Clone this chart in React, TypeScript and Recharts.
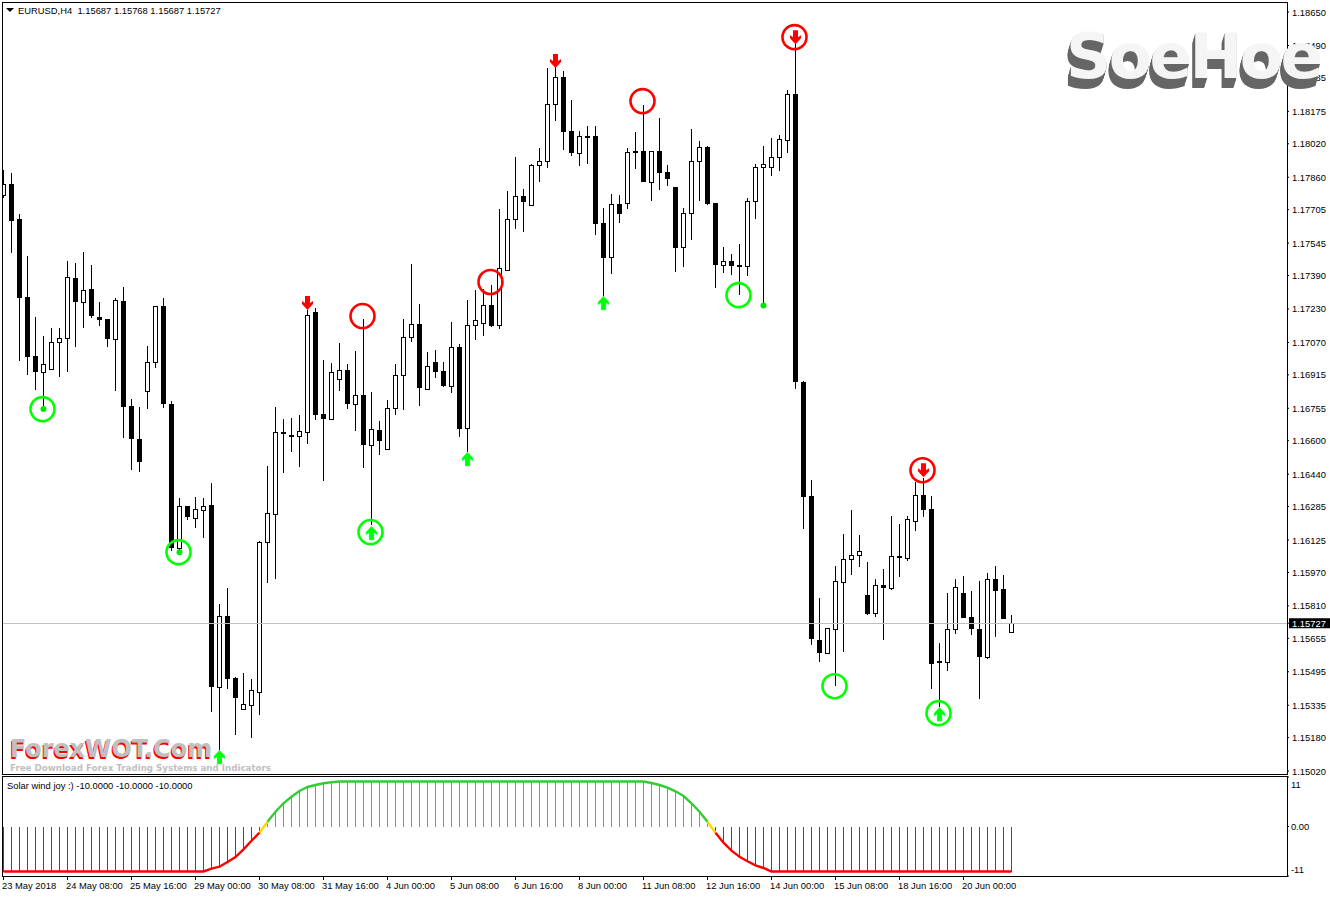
import { Bar, Cell, ComposedChart, Line, ReferenceLine, Scatter, XAxis, YAxis } from "recharts";

const opens = [
  1.17775, 1.17827, 1.1766, 1.17287, 1.17005, 1.16928, 1.16943, 1.17072, 1.17091, 1.17378,
  1.17263, 1.17325, 1.17191, 1.17182, 1.17086, 1.17268, 1.16766, 1.16608, 1.16837, 1.16976,
  1.17244, 1.16775, 1.16086, 1.16287, 1.1623, 1.16268, 1.16292, 1.15421, 1.15761, 1.15465,
  1.15316, 1.15335, 1.15398, 1.16115, 1.16249, 1.16641, 1.16627, 1.16622, 1.16641, 1.17215,
  1.16727, 1.16703, 1.16895, 1.16938, 1.16775, 1.16818, 1.16579, 1.16651, 1.1656, 1.16756,
  1.16914, 1.17096, 1.17158, 1.16847, 1.16976, 1.16933, 1.16861, 1.17048, 1.1666, 1.17153,
  1.17163, 1.17249, 1.17153, 1.17416, 1.1766, 1.1777, 1.17727, 1.17918, 1.17937, 1.1821,
  1.18339, 1.18081, 1.17976, 1.18052, 1.18057, 1.17641, 1.17478, 1.17732, 1.17736, 1.17985,
  1.17985, 1.17837, 1.17985, 1.17885, 1.17813, 1.17526, 1.17689, 1.17937, 1.18004, 1.17736,
  1.1744, 1.17459, 1.1744, 1.17435, 1.17746, 1.17909, 1.17909, 1.17957, 1.18038, 1.18258,
  1.1688, 1.16335, 1.15646, 1.15584, 1.15699, 1.15924, 1.16034, 1.16053, 1.15862, 1.15775,
  1.15909, 1.15895, 1.16048, 1.16038, 1.16215, 1.1634, 1.16273, 1.15546, 1.15541, 1.15699,
  1.15871, 1.15756, 1.15699, 1.15565, 1.15938, 1.1589, 1.15687,
];
const highs = [
  1.17894, 1.1788, 1.17684, 1.17483, 1.17191, 1.171, 1.17139, 1.17139, 1.17459, 1.1745,
  1.17502, 1.1744, 1.17263, 1.17182, 1.17282, 1.17335, 1.16799, 1.16761, 1.17053, 1.17244,
  1.17282, 1.16789, 1.16326, 1.16287, 1.1633, 1.16326, 1.16397, 1.15819, 1.15895, 1.15469,
  1.15489, 1.1546, 1.1612, 1.16479, 1.16761, 1.16703, 1.16708, 1.16722, 1.17225, 1.17234,
  1.16986, 1.16971, 1.17067, 1.16966, 1.17029, 1.17182, 1.16832, 1.16694, 1.16794, 1.16966,
  1.17182, 1.17445, 1.17253, 1.17024, 1.17033, 1.16976, 1.17167, 1.17062, 1.17273, 1.1732,
  1.17325, 1.17344, 1.17708, 1.17794, 1.17957, 1.17803, 1.17923, 1.17999, 1.18382, 1.18401,
  1.18368, 1.18229, 1.18081, 1.18105, 1.18105, 1.17713, 1.17779, 1.17775, 1.17999, 1.18076,
  1.18205, 1.17985, 1.18143, 1.17918, 1.17813, 1.17713, 1.1809, 1.18033, 1.18009, 1.17736,
  1.17526, 1.17493, 1.1754, 1.1776, 1.17923, 1.18009, 1.18047, 1.18062, 1.18277, 1.18497,
  1.16885, 1.16412, 1.15847, 1.15704, 1.16, 1.16153, 1.16268, 1.16149, 1.16019, 1.15938,
  1.15986, 1.16239, 1.16201, 1.16239, 1.16402, 1.16421, 1.16335, 1.15632, 1.15871, 1.15938,
  1.15952, 1.15881, 1.15929, 1.15967, 1.16, 1.15957, 1.15768,
];
const lows = [
  1.1776, 1.17497, 1.16981, 1.16914, 1.16842, 1.16761, 1.16943, 1.16904, 1.16928, 1.17048,
  1.17139, 1.17186, 1.17148, 1.17048, 1.16837, 1.16612, 1.16459, 1.1645, 1.16751, 1.16947,
  1.16756, 1.16072, 1.16072, 1.1622, 1.16182, 1.16134, 1.15302, 1.1512, 1.15412, 1.15192,
  1.15316, 1.15178, 1.15288, 1.15919, 1.15938, 1.16445, 1.16546, 1.16474, 1.16584, 1.16699,
  1.16407, 1.16703, 1.16837, 1.16751, 1.16646, 1.16469, 1.16196, 1.16531, 1.1656, 1.16722,
  1.16746, 1.17072, 1.16766, 1.16847, 1.16899, 1.16856, 1.16828, 1.16617, 1.16546, 1.17081,
  1.171, 1.17143, 1.17134, 1.17416, 1.17612, 1.17598, 1.17727, 1.17837, 1.17904, 1.18129,
  1.1799, 1.17961, 1.17913, 1.17923, 1.17583, 1.17287, 1.17397, 1.17641, 1.17708, 1.17899,
  1.17837, 1.17746, 1.17799, 1.17818, 1.17406, 1.1743, 1.1756, 1.17746, 1.17727, 1.1733,
  1.17402, 1.17392, 1.17296, 1.17387, 1.1766, 1.17253, 1.17866, 1.1789, 1.17976, 1.16847,
  1.16177, 1.15622, 1.15541, 1.15584, 1.15426, 1.15589, 1.15957, 1.15995, 1.15766, 1.15756,
  1.15646, 1.15885, 1.15948, 1.16024, 1.16168, 1.16235, 1.15412, 1.15326, 1.15498, 1.15675,
  1.15751, 1.1567, 1.15364, 1.15555, 1.15661, 1.15747, 1.15687,
];
const closes = [
  1.17827, 1.1765, 1.17282, 1.17, 1.16928, 1.16966, 1.17072, 1.17091, 1.17383, 1.17263,
  1.1732, 1.17196, 1.17177, 1.17086, 1.17273, 1.16761, 1.16608, 1.16498, 1.16976, 1.17244,
  1.16775, 1.16086, 1.16287, 1.16235, 1.16273, 1.16287, 1.15421, 1.15761, 1.1546, 1.15369,
  1.1534, 1.15407, 1.16115, 1.16254, 1.16641, 1.16632, 1.16617, 1.16646, 1.17201, 1.16722,
  1.16703, 1.16928, 1.16938, 1.16775, 1.16818, 1.16579, 1.16656, 1.16598, 1.16756, 1.16914,
  1.17096, 1.17158, 1.16852, 1.16957, 1.16928, 1.16861, 1.17048, 1.16656, 1.17153, 1.17177,
  1.17249, 1.17148, 1.17426, 1.1766, 1.1777, 1.17741, 1.17918, 1.17937, 1.1821, 1.18339,
  1.18076, 1.17976, 1.18057, 1.18057, 1.17636, 1.17473, 1.17732, 1.17684, 1.1798, 1.17976,
  1.17837, 1.17985, 1.1788, 1.17851, 1.17521, 1.17689, 1.17937, 1.18004, 1.17732, 1.1744,
  1.17459, 1.17435, 1.1743, 1.17746, 1.17909, 1.17923, 1.17957, 1.18043, 1.18258, 1.1688,
  1.1633, 1.15651, 1.15584, 1.15704, 1.15929, 1.16034, 1.16053, 1.16072, 1.15771, 1.15909,
  1.15895, 1.16048, 1.16038, 1.16225, 1.1634, 1.16268, 1.15531, 1.15536, 1.15699, 1.159,
  1.15751, 1.15699, 1.15565, 1.15938, 1.15881, 1.15747, 1.15727,
];

const solarWind = [
  -10, -10, -10, -10, -10, -10, -10, -10, -10, -10, -10, -10, -10, -10, -10, -10, -10, -10, -10, -10,
  -10, -10, -10, -10, -10, -10, -9.38, -8.93, -7.89, -6.78, -5.07, -3.16, -1.38, 1.07, 3.29, 5.16,
  6.62, 7.89, 8.78, 9.22, 9.6, 9.82, 10, 10, 10, 10, 10, 10, 10, 10,
  10, 10, 10, 10, 10, 10, 10, 10, 10, 10, 10, 10, 10, 10, 10, 10, 10, 10, 10, 10,
  10, 10, 10, 10, 10, 10, 10, 10, 10, 10, 10, 9.67, 9.22, 8.63, 7.82, 6.78, 5.16, 3.29, 1.07, -1.38,
  -3.6, -5.38, -6.71, -7.73, -8.62, -9.22, -10, -10, -10, -10, -10, -10, -10, -10, -10, -10, -10, -10, -10, -10,
  -10, -10, -10, -10, -10, -10, -10, -10, -10, -10, -10, -10, -10, -10, -10, -10, -10,
];

const priceTicks = [
  1.1865, 1.1849, 1.18335, 1.18175, 1.1802, 1.1786, 1.17705, 1.17545, 1.1739, 1.1723, 1.1707, 1.16915,
  1.16755, 1.166, 1.1644, 1.16285, 1.16125, 1.1597, 1.1581, 1.15655, 1.15495, 1.15335, 1.1518, 1.1502,
];
const lastPrice = 1.15727;
const windTicks = [11, 0, -11];
const timeLabels = [
  "23 May 2018", "24 May 08:00", "25 May 16:00", "29 May 00:00", "30 May 08:00", "31 May 16:00",
  "4 Jun 00:00", "5 Jun 08:00", "6 Jun 16:00", "8 Jun 00:00", "11 Jun 08:00", "12 Jun 16:00",
  "14 Jun 00:00", "15 Jun 08:00", "18 Jun 16:00", "20 Jun 00:00",
];

const greenCircles = [
  { i: 5, price: 1.16751 }, { i: 22, price: 1.16067 }, { i: 46, price: 1.16163 },
  { i: 92, price: 1.17296 }, { i: 104, price: 1.15426 }, { i: 117, price: 1.15297 },
];
const redCircles = [
  { i: 45, price: 1.17196 }, { i: 61, price: 1.17359 }, { i: 80, price: 1.18224 },
  { i: 99, price: 1.1853 }, { i: 115, price: 1.16459 },
];
const upArrows = [
  { i: 27, price: 1.15087 }, { i: 46, price: 1.16158 }, { i: 58, price: 1.16512 },
  { i: 75, price: 1.17258 }, { i: 117, price: 1.15292 },
];
const downArrows = [
  { i: 38, price: 1.17258 }, { i: 69, price: 1.18416 }, { i: 99, price: 1.1853 }, { i: 115, price: 1.16459 },
];
const greenDots = [{ i: 5, price: 1.16751 }, { i: 22, price: 1.16067 }, { i: 95, price: 1.17246 }];

const candles = opens.map((open, i) => ({
  i,
  open,
  close: closes[i],
  high: highs[i],
  low: lows[i],
  range: [lows[i], highs[i]],
}));

const windRows = solarWind.map((wind, i) => {
  const prev = solarWind[i - 1] ?? wind;
  const next = solarWind[i + 1] ?? wind;
  return {
    i,
    wind,
    red: wind < 0 ? wind : null,
    green: wind > 0 ? wind : null,
    yellow: wind * prev < 0 || wind * next < 0 ? wind : null,
  };
});

const xDomain = [-0.1875, 160.4375];
const axisFont = "'Liberation Sans', Arial, sans-serif";
const timeTicks = timeLabels.map((_, n) => n * 8);

function Candle(props: any) {
  const { x, y, width, height, payload } = props;
  const unit = height / (payload.high - payload.low);
  const yOf = (p: number) => y + (payload.high - p) * unit;
  const top = Math.round(yOf(Math.max(payload.open, payload.close)));
  const bottom = Math.round(yOf(Math.min(payload.open, payload.close)));
  const bull = payload.close >= payload.open;
  return (
    <g shapeRendering="crispEdges">
      <rect x={x + width / 2 - 0.5} y={y} width={1} height={height} fill="#000" />
      {bull ? (
        <rect x={x + 0.5} y={top + 0.5} width={width - 1} height={Math.max(bottom - top, 1)} fill="#fff" stroke="#000" />
      ) : (
        <rect x={x} y={top} width={width} height={Math.max(bottom - top, 2)} fill="#000" />
      )}
    </g>
  );
}

function Ring(props: any, color: string) {
  return <circle cx={props.cx - 1} cy={props.cy} r={12} fill="none" stroke={color} strokeWidth={2.6} />;
}

// swept-back wings, like the terminal's arrow glyph
function UpArrow(props: any) {
  const { cx, cy } = props;
  const d = `M${cx} ${cy - 7}L${cx + 5.5} ${cy - 1}V${cy + 2}L${cx + 2.5} ${cy}V${cy + 7}H${cx - 2.5}V${cy}L${cx - 5.5} ${cy + 2}V${cy - 1}Z`;
  return <path d={d} fill="#00ff00" stroke="#66ffcc" strokeWidth={0.4} />;
}

function DownArrow(props: any) {
  const { cx, cy } = props;
  const d = `M${cx} ${cy + 7}L${cx + 5.5} ${cy + 1}V${cy - 2}L${cx + 2.5} ${cy}V${cy - 7}H${cx - 2.5}V${cy}L${cx - 5.5} ${cy - 2}V${cy + 1}Z`;
  return <path d={d} fill="#ff0000" />;
}

function PriceTick(props: any) {
  const { x, y, payload } = props;
  if (payload.value === lastPrice) {
    return (
      <g>
        <rect x={1289} y={y - 5} width={41} height={10} fill="#000" />
        <text x={x} y={y + 3.5} fontFamily={axisFont} fontSize={9.4} fill="#fff">
          {payload.value.toFixed(5)}
        </text>
      </g>
    );
  }
  return (
    <text x={x} y={y + 3.5} fontFamily={axisFont} fontSize={9.4} fill="#000">
      {payload.value.toFixed(5)}
    </text>
  );
}

function WindTick(props: any) {
  const { x, y, payload } = props;
  const v = payload.value;
  const label = v === 0 ? "0.00" : String(v);
  // the outer labels sit inside the pane, as the terminal draws them
  const shift = v === 11 ? 7 : v === -11 ? -7 : 0;
  return (
    <text x={x - 1} y={y + shift + 3.5} fontFamily={axisFont} fontSize={9.4} fill="#000">
      {label}
    </text>
  );
}

function TimeTick(props: any) {
  const { x, y, payload } = props;
  return (
    <g>
      <rect x={x - 0.5} y={y} width={1} height={4} fill="#000" shapeRendering="crispEdges" />
      <text x={x - 1.5} y={y + 13} fontFamily={axisFont} fontSize={9.4} fill="#000">
        {timeLabels[payload.value / 8]}
      </text>
    </g>
  );
}

const soeShadow = [1, 2, 3, 4, 5, 6, 7, 8, 9, 10]
  .map((s) => `${-s * 0.3}px ${s}px 0 #666666`)
  .join(", ");

function Watermarks() {
  const logoFont = "'DejaVu Sans', sans-serif";
  return (
    <>
      <div
        style={{
          position: "absolute",
          left: 1066,
          top: 24.7,
          fontFamily: logoFont,
          fontWeight: "bold",
          fontSize: 63,
          lineHeight: "63px",
          letterSpacing: -2.6,
          color: "#f5f5f5",
          textShadow: soeShadow,
          whiteSpace: "pre",
          pointerEvents: "none",
        }}
      >
        SoeHoe
      </div>
      <div
        style={{
          position: "absolute",
          left: 10,
          top: 737,
          fontFamily: logoFont,
          fontWeight: "bold",
          fontSize: 24,
          lineHeight: "24px",
          letterSpacing: -0.1,
          color: "#c0c0c0",
          textShadow: "-1px 1.5px 0 #ff0000",
          whiteSpace: "pre",
          pointerEvents: "none",
        }}
      >
        ForexWOT.Com
      </div>
      <svg width={290} height={16} style={{ position: "absolute", left: 0, top: 760, overflow: "visible", pointerEvents: "none" }}>
        <text x={10} y={10.5} fontFamily={logoFont} fontWeight="bold" fontSize={9.5} fill="#c0c0c0" textLength={261} lengthAdjust="spacingAndGlyphs">
          Free Download Forex Trading Systems and Indicators
        </text>
      </svg>
    </>
  );
}

const paneText = { position: "absolute", fontFamily: axisFont, fontSize: 9.4, color: "#000", whiteSpace: "pre" } as const;
const frame = { position: "absolute", boxSizing: "border-box", border: "1px solid #000", pointerEvents: "none" } as const;

export default function App() {
  return (
    <div style={{ position: "absolute", left: 0, top: 0, width: 1330, height: 897, background: "#fff", overflow: "hidden" }}>
      <div style={{ position: "absolute", left: 0, top: 0 }}>
        <ComposedChart width={1330} height={776} data={candles} margin={{ top: 2, right: 0, bottom: 2, left: 2 }}>
          <XAxis dataKey="i" type="number" domain={xDomain} allowDataOverflow hide />
          <YAxis
            dataKey="price"
            orientation="right"
            type="number"
            domain={[1.15006, 1.18698]}
            ticks={[...priceTicks, lastPrice]}
            interval={0}
            width={43}
            axisLine={false}
            tickSize={2}
            tickMargin={3}
            tickLine={{ stroke: "#000" }}
            tick={PriceTick}
          />
          <ReferenceLine y={lastPrice} stroke="#c0c0c0" shapeRendering="crispEdges" />
          <Bar dataKey="range" barSize={5} shape={Candle} isAnimationActive={false} />
          <Scatter data={greenCircles} shape={(p: any) => Ring(p, "#00ff00")} isAnimationActive={false} />
          <Scatter data={redCircles} shape={(p: any) => Ring(p, "#ff0000")} isAnimationActive={false} />
          <Scatter data={upArrows} shape={UpArrow} isAnimationActive={false} />
          <Scatter data={downArrows} shape={DownArrow} isAnimationActive={false} />
          <Scatter data={greenDots} fill="#00ee00" shape={(p: any) => <circle cx={p.cx} cy={p.cy} r={3} fill="#00e800" />} isAnimationActive={false} />
        </ComposedChart>
      </div>
      <div style={{ position: "absolute", left: 0, top: 776 }}>
        <ComposedChart width={1330} height={121} data={windRows} margin={{ top: 1, right: 0, bottom: 0, left: 2 }}>
          <XAxis
            dataKey="i"
            type="number"
            domain={xDomain}
            allowDataOverflow
            ticks={timeTicks}
            interval={0}
            height={21}
            axisLine={false}
            tickLine={false}
            tickSize={0}
            tickMargin={0}
            tick={TimeTick}
          />
          <YAxis
            orientation="right"
            type="number"
            domain={[-11, 11]}
            ticks={windTicks}
            interval={0}
            width={43}
            axisLine={false}
            tickSize={2}
            tickMargin={3}
            tickLine={{ stroke: "#000" }}
            tick={WindTick}
          />
          <Bar dataKey="wind" barSize={1} isAnimationActive={false} shapeRendering="crispEdges">
            {windRows.map((row) => (
              <Cell key={row.i} fill={row.wind < 0 ? "#ff0000" : "#32cd32"} />
            ))}
          </Bar>
          <Line dataKey="red" stroke="#ff0000" strokeWidth={2.4} dot={false} isAnimationActive={false} />
          <Line dataKey="green" stroke="#32cd32" strokeWidth={2.4} dot={false} isAnimationActive={false} />
          <Line dataKey="yellow" stroke="#ffd700" strokeWidth={2.4} dot={false} isAnimationActive={false} />
        </ComposedChart>
      </div>
      <div style={{ ...frame, left: 2, top: 2, width: 1286, height: 773 }} />
      <div style={{ ...frame, left: 2, top: 776, width: 1286, height: 101 }} />
      <svg width={12} height={8} style={{ position: "absolute", left: 6, top: 7 }}>
        <path d="M0 1H8L4 5Z" fill="#000" />
      </svg>
      <div style={{ ...paneText, left: 18, top: 5 }}>EURUSD,H4  1.15687 1.15768 1.15687 1.15727</div>
      <div style={{ ...paneText, left: 7, top: 780 }}>Solar wind joy :) -10.0000 -10.0000 -10.0000</div>
      <Watermarks />
    </div>
  );
}
